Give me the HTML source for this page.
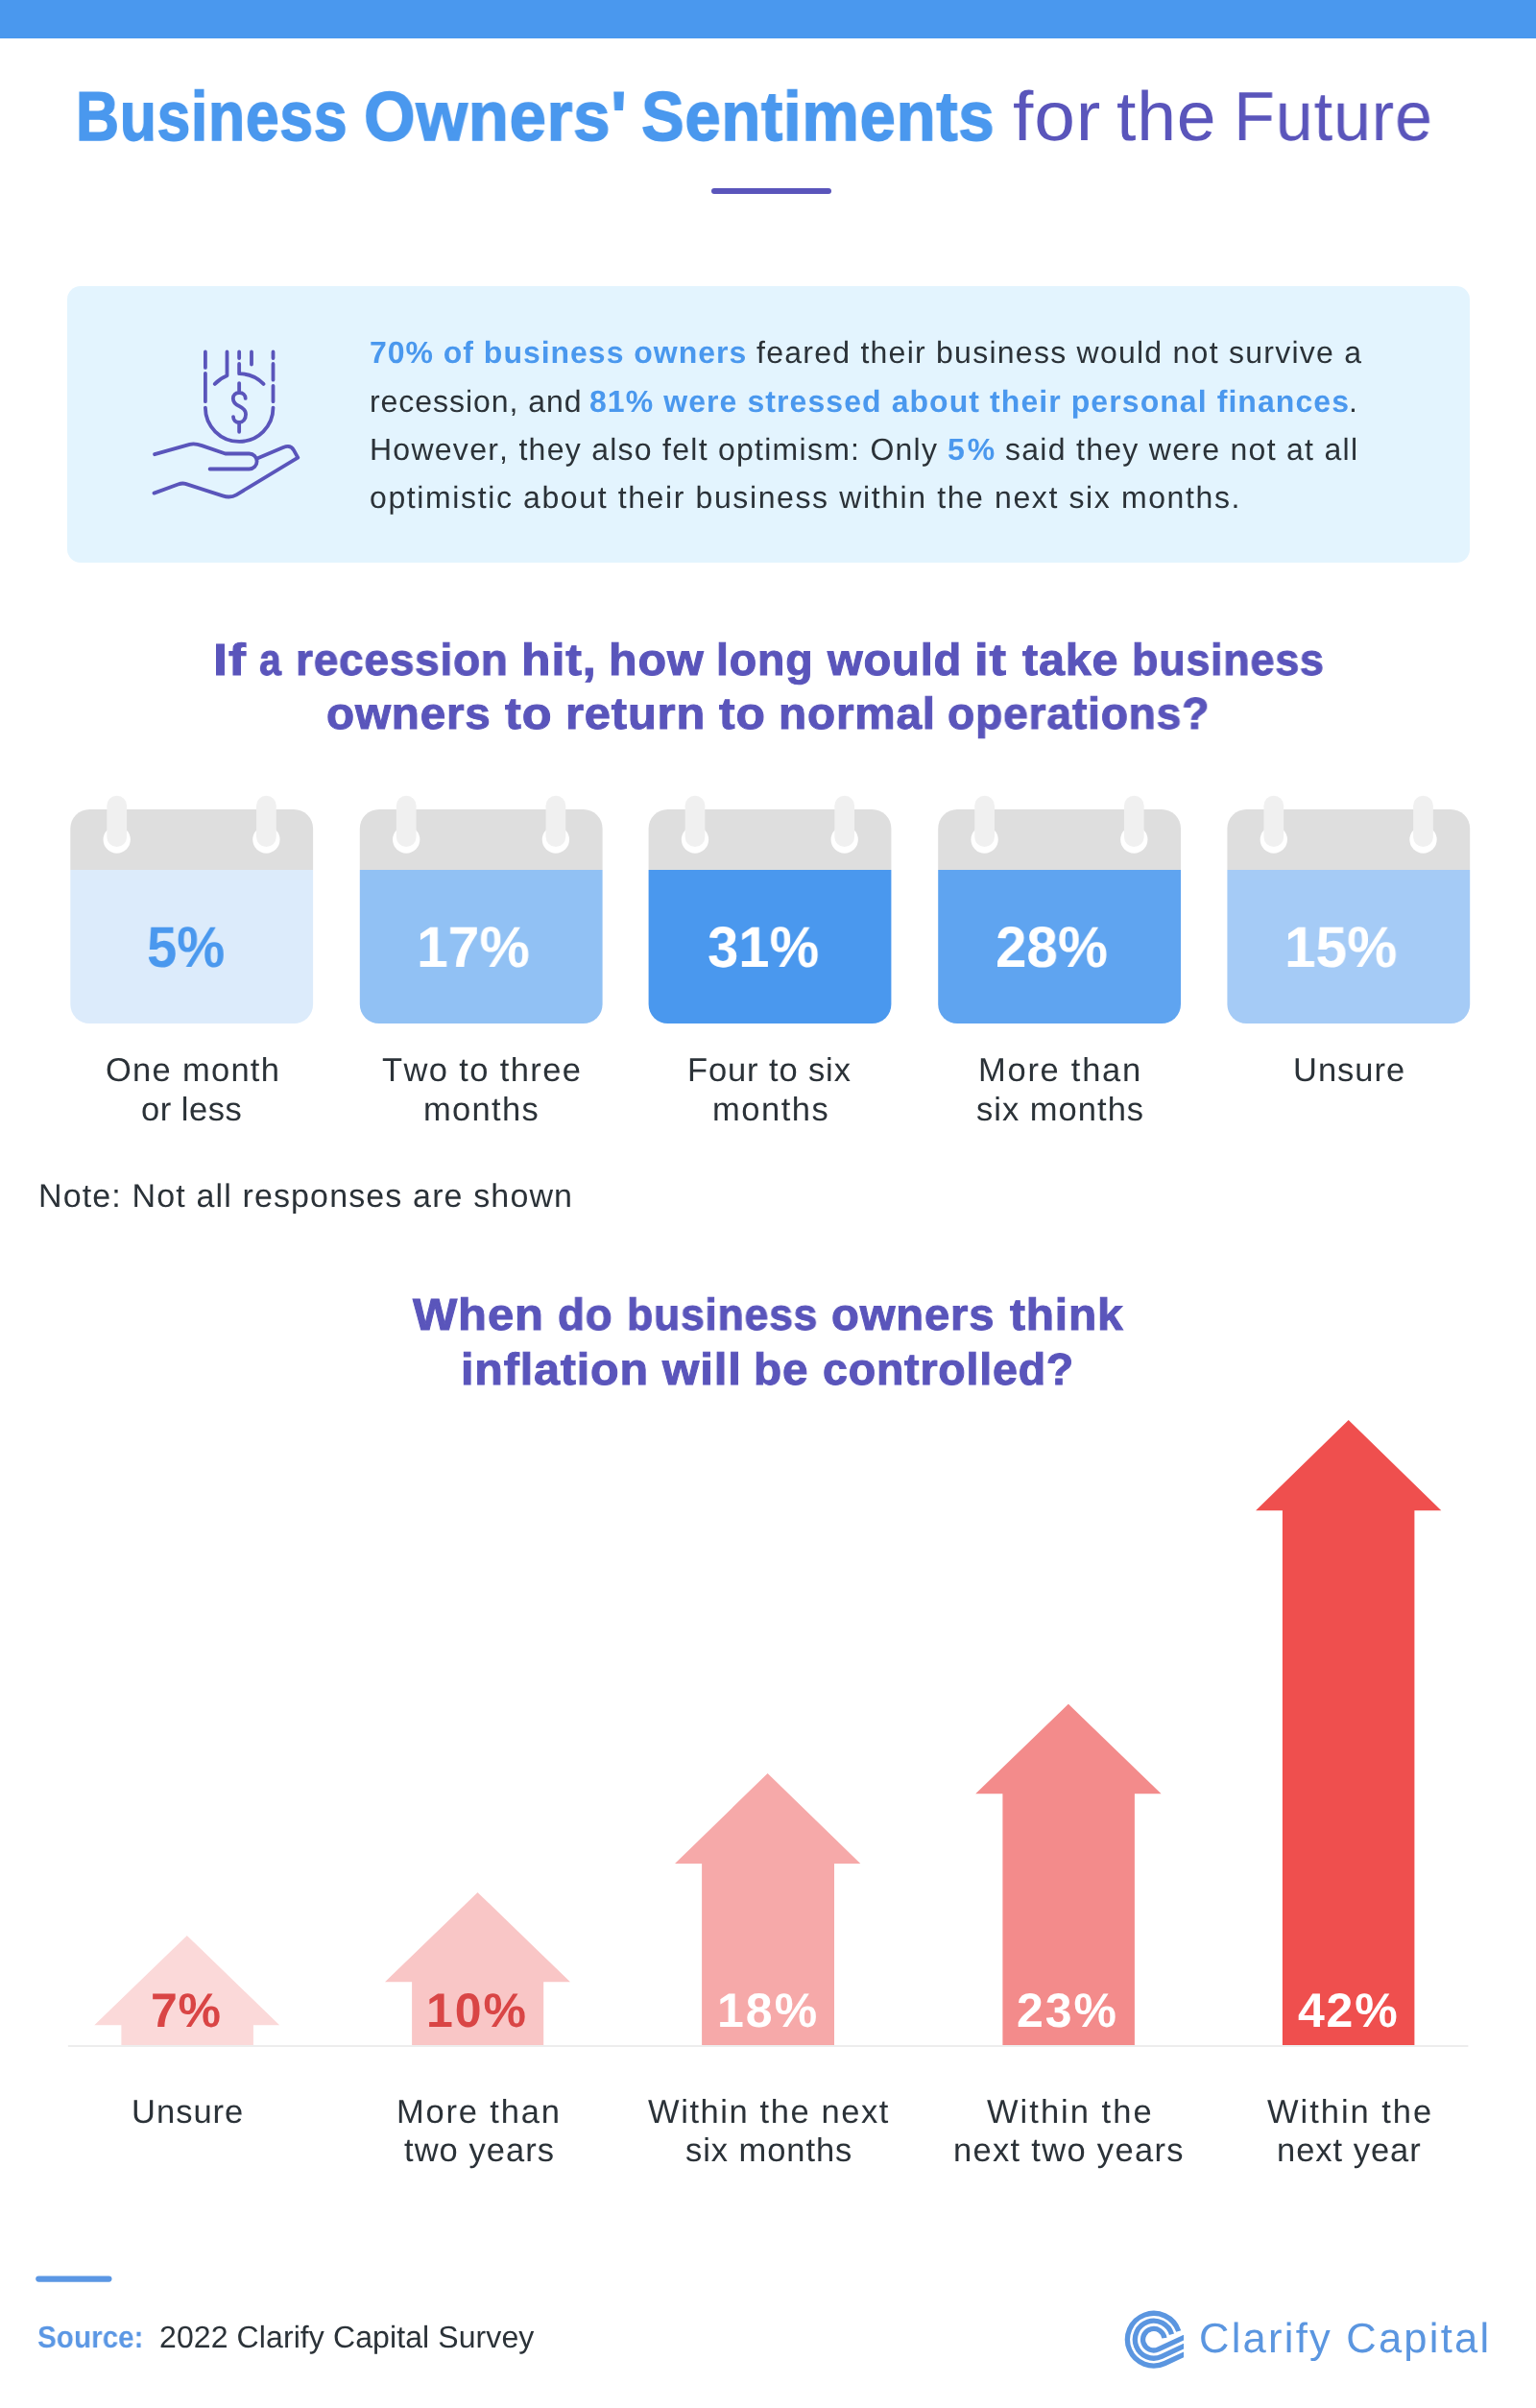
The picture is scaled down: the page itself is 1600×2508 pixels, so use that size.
<!DOCTYPE html>
<html><head><meta charset="utf-8"><title>Business Owners' Sentiments for the Future</title>
<style>
html,body{margin:0;padding:0;background:#fff;}
body{width:1600px;height:2508px;position:relative;overflow:hidden;font-family:"Liberation Sans",sans-serif;}
.t{position:absolute;white-space:nowrap;font-kerning:none;transform-origin:0 0;text-rendering:geometricPrecision;will-change:transform;}
.s{position:absolute;}
svg{position:absolute;left:0;top:0;}
</style></head><body>
<div class="s" style="left:0;top:0;width:1600px;height:40px;background:#4a98ee"></div>
<div class="s" style="left:740.6px;top:195.8px;width:125.4px;height:6.2px;border-radius:3.1px;background:#5a55bb"></div>
<div class="s" style="left:70px;top:298px;width:1461px;height:288px;border-radius:14px;background:#e3f4fe"></div>
<svg width="1600" height="2508" viewBox="0 0 1600 2508">
<path d="M73.3 906.0 V863.0 A20 20 0 0 1 93.3 843.0 H306.1 A20 20 0 0 1 326.1 863.0 V906.0 Z" fill="#dedede"/>
<path d="M73.3 906.0 V1046.0 A20 20 0 0 0 93.3 1066.0 H306.1 A20 20 0 0 0 326.1 1046.0 V906.0 Z" fill="#dcebfb"/>
<circle cx="121.7" cy="874.6" r="14.15" fill="#fff"/>
<rect x="111.35" y="828.8" width="20.7" height="53.3" rx="10.35" fill="#f0f0f0"/>
<circle cx="277.4" cy="874.6" r="14.15" fill="#fff"/>
<rect x="267.05" y="828.8" width="20.7" height="53.3" rx="10.35" fill="#f0f0f0"/>
<path d="M374.8 906.0 V863.0 A20 20 0 0 1 394.8 843.0 H607.6 A20 20 0 0 1 627.6 863.0 V906.0 Z" fill="#dedede"/>
<path d="M374.8 906.0 V1046.0 A20 20 0 0 0 394.8 1066.0 H607.6 A20 20 0 0 0 627.6 1046.0 V906.0 Z" fill="#91c1f4"/>
<circle cx="423.2" cy="874.6" r="14.15" fill="#fff"/>
<rect x="412.85" y="828.8" width="20.7" height="53.3" rx="10.35" fill="#f0f0f0"/>
<circle cx="578.9" cy="874.6" r="14.15" fill="#fff"/>
<rect x="568.55" y="828.8" width="20.7" height="53.3" rx="10.35" fill="#f0f0f0"/>
<path d="M675.6 906.0 V863.0 A20 20 0 0 1 695.6 843.0 H908.4 A20 20 0 0 1 928.4 863.0 V906.0 Z" fill="#dedede"/>
<path d="M675.6 906.0 V1046.0 A20 20 0 0 0 695.6 1066.0 H908.4 A20 20 0 0 0 928.4 1046.0 V906.0 Z" fill="#4a98ee"/>
<circle cx="724.0" cy="874.6" r="14.15" fill="#fff"/>
<rect x="713.65" y="828.8" width="20.7" height="53.3" rx="10.35" fill="#f0f0f0"/>
<circle cx="879.7" cy="874.6" r="14.15" fill="#fff"/>
<rect x="869.35" y="828.8" width="20.7" height="53.3" rx="10.35" fill="#f0f0f0"/>
<path d="M977.2 906.0 V863.0 A20 20 0 0 1 997.2 843.0 H1210.0 A20 20 0 0 1 1230.0 863.0 V906.0 Z" fill="#dedede"/>
<path d="M977.2 906.0 V1046.0 A20 20 0 0 0 997.2 1066.0 H1210.0 A20 20 0 0 0 1230.0 1046.0 V906.0 Z" fill="#5fa4f0"/>
<circle cx="1025.6" cy="874.6" r="14.15" fill="#fff"/>
<rect x="1015.25" y="828.8" width="20.7" height="53.3" rx="10.35" fill="#f0f0f0"/>
<circle cx="1181.3" cy="874.6" r="14.15" fill="#fff"/>
<rect x="1170.95" y="828.8" width="20.7" height="53.3" rx="10.35" fill="#f0f0f0"/>
<path d="M1278.4 906.0 V863.0 A20 20 0 0 1 1298.4 843.0 H1511.2 A20 20 0 0 1 1531.2 863.0 V906.0 Z" fill="#dedede"/>
<path d="M1278.4 906.0 V1046.0 A20 20 0 0 0 1298.4 1066.0 H1511.2 A20 20 0 0 0 1531.2 1046.0 V906.0 Z" fill="#a5cbf6"/>
<circle cx="1326.8" cy="874.6" r="14.15" fill="#fff"/>
<rect x="1316.45" y="828.8" width="20.7" height="53.3" rx="10.35" fill="#f0f0f0"/>
<circle cx="1482.5" cy="874.6" r="14.15" fill="#fff"/>
<rect x="1472.15" y="828.8" width="20.7" height="53.3" rx="10.35" fill="#f0f0f0"/>
<rect x="70.9" y="2130" width="1458.5" height="2" fill="#ededed"/>
<polygon points="194.8,2015.9 291.2,2109.2 263.9,2109.2 263.9,2130 126.4,2130 126.4,2109.2 98.3,2109.2" fill="#fbd9d9"/>
<polygon points="497.5,1970.9 594.0,2064.3 566.2,2064.3 566.2,2130 429.1,2130 429.1,2064.3 401.0,2064.3" fill="#f9c6c6"/>
<polygon points="799.6,1847.1 896.3,1940.9 869.0,1940.9 869.0,2130 731.1,2130 731.1,1940.9 703.0,1940.9" fill="#f6a9a9"/>
<polygon points="1112.9,1774.8 1209.6,1868.2 1181.9,1868.2 1181.9,2130 1044.4,2130 1044.4,1868.2 1016.2,1868.2" fill="#f38b8b"/>
<polygon points="1404.7,1479.0 1501.3,1573.3 1473.4,1573.3 1473.4,2130 1335.9,2130 1335.9,1573.3 1308.1,1573.3" fill="#ef4f4e"/>
<rect x="37.2" y="2370.5" width="79.3" height="6.2" rx="3.1" fill="#5b97e4"/>
<clipPath id="lc"><rect x="1160" y="2395" width="72.9" height="90"/></clipPath>
<g clip-path="url(#lc)" fill="none" stroke="#5b96e0" stroke-width="5.3">
<path d="M1227.74 2428.02 A27.35 27.35 0 1 0 1213.36 2461.49 L1267.74 2436.13"/>
<path d="M1220.50 2431.34 A19.45 19.45 0 1 0 1210.02 2454.33 L1264.40 2428.97"/>
<path d="M1212.93 2435.04 A11.25 11.25 0 1 0 1206.55 2446.90 L1260.93 2421.54"/>
</g>
<g fill="none" stroke="#5a55bb" stroke-width="3.8" stroke-linecap="round" stroke-linejoin="round">
<path d="M213.9 366.5V382.9M213.9 388.8V418.2M213.9 424.6A35.3 35.3 0 0 0 284.5 424.6M284.5 366.5V373M284.5 379V395.7M284.5 401.8V418.2"/>
<path d="M236.5 366.5V391.3A35.4 35.4 0 0 0 223.8 399.9M249.15 366.5V373M249.15 379V389.2A35.4 35.4 0 0 1 274.5 399.9M262 366.5V379.5"/>
<path d="M249.15 399.1V409M249.15 440V449.8M255.7 414.9C255.7 411.5 252.9 409 249.15 409C245.5 409 242.8 411.6 242.8 414.9C242.8 419.5 246 421.5 249.15 423C252.5 424.6 256.05 426.5 256.05 431.5C256.05 436.5 253 440 249.15 440C245.5 440 243 437.5 243 434.1"/>
<path d="M161.1 473.2L197.6 462.9Q202.7 461.5 210.3 464.1L234.7 472.5H259.6A8 8 0 0 1 259.6 488.5H218.6"/>
<path d="M267.9 477.4L295 466Q302.7 462.8 306 468.8L310.3 476.6L246.3 515.3Q240.1 519.05 231.9 516.4L193.2 503.9Q189.9 502.85 185.4 504.5L160.5 513.6"/>
</g>
</svg>
<div class="t" style="top:77.52px;font-size:72.5px;line-height:87px;color:#4a98ee;font-weight:700;-webkit-text-stroke:1.5px #4a98ee;left:79.27px;letter-spacing:0.800px;transform:scaleX(0.8612);">Business</div>
<div class="t" style="top:77.52px;font-size:72.5px;line-height:87px;color:#4a98ee;font-weight:700;-webkit-text-stroke:1.5px #4a98ee;left:378.82px;letter-spacing:0.800px;transform:scaleX(0.9504);">Owners'</div>
<div class="t" style="top:77.52px;font-size:72.5px;line-height:87px;color:#4a98ee;font-weight:700;-webkit-text-stroke:1.5px #4a98ee;left:667.82px;letter-spacing:0.800px;transform:scaleX(0.9233);">Sentiments</div>
<div class="t" style="top:77.50px;font-size:72.5px;line-height:87px;color:#5a55bb;left:1054.61px;letter-spacing:0.800px;transform:scaleX(1.0586);">for</div>
<div class="t" style="top:77.50px;font-size:72.5px;line-height:87px;color:#5a55bb;left:1162.79px;letter-spacing:0.800px;transform:scaleX(1.0116);">the</div>
<div class="t" style="top:77.50px;font-size:72.5px;line-height:87px;color:#5a55bb;left:1285.04px;letter-spacing:0.800px;transform:scaleX(0.9693);">Future</div>
<div class="t" style="top:348.41px;font-size:32px;line-height:38px;color:#4a98ee;font-weight:700;left:385.32px;letter-spacing:0.977px;">70% of business owners</div>
<div class="t" style="top:348.41px;font-size:32px;line-height:38px;color:#2b3238;left:787.75px;letter-spacing:1.254px;">feared their business would not survive a</div>
<div class="t" style="top:398.50px;font-size:32px;line-height:38px;color:#2b3238;left:384.57px;letter-spacing:0.951px;">recession, and</div>
<div class="t" style="top:398.50px;font-size:32px;line-height:38px;color:#4a98ee;font-weight:700;left:613.98px;letter-spacing:1.074px;">81% were stressed about their personal finances</div>
<div class="t" style="top:398.50px;font-size:32px;line-height:38px;color:#2b3238;left:1405.08px;letter-spacing:0.000px;">.</div>
<div class="t" style="top:448.71px;font-size:32px;line-height:38px;color:#2b3238;left:385.07px;letter-spacing:1.265px;">However, they also felt optimism: Only</div>
<div class="t" style="top:448.71px;font-size:32px;line-height:38px;color:#4a98ee;font-weight:700;left:987.02px;letter-spacing:2.978px;">5%</div>
<div class="t" style="top:448.71px;font-size:32px;line-height:38px;color:#2b3238;left:1046.51px;letter-spacing:1.285px;">said they were not at all</div>
<div class="t" style="top:498.91px;font-size:32px;line-height:38px;color:#2b3238;left:385.36px;letter-spacing:1.614px;">optimistic about their business within the next six months.</div>
<div class="t" style="top:658.71px;font-size:46.5px;line-height:56px;color:#5a55bb;font-weight:700;-webkit-text-stroke:1px #5a55bb;left:222.00px;letter-spacing:0.800px;transform:scaleX(1.1572);">If</div>
<div class="t" style="top:658.71px;font-size:46.5px;line-height:56px;color:#5a55bb;font-weight:700;-webkit-text-stroke:1px #5a55bb;left:269.70px;letter-spacing:0.800px;transform:scaleX(0.8833);">a</div>
<div class="t" style="top:658.71px;font-size:46.5px;line-height:56px;color:#5a55bb;font-weight:700;-webkit-text-stroke:1px #5a55bb;left:307.77px;letter-spacing:0.800px;transform:scaleX(0.9886);">recession</div>
<div class="t" style="top:658.71px;font-size:46.5px;line-height:56px;color:#5a55bb;font-weight:700;-webkit-text-stroke:1px #5a55bb;left:542.90px;letter-spacing:0.800px;transform:scaleX(1.0765);">hit,</div>
<div class="t" style="top:658.71px;font-size:46.5px;line-height:56px;color:#5a55bb;font-weight:700;-webkit-text-stroke:1px #5a55bb;left:633.62px;letter-spacing:0.800px;transform:scaleX(1.0424);">how</div>
<div class="t" style="top:658.71px;font-size:46.5px;line-height:56px;color:#5a55bb;font-weight:700;-webkit-text-stroke:1px #5a55bb;left:745.66px;letter-spacing:0.800px;transform:scaleX(0.9992);">long</div>
<div class="t" style="top:658.71px;font-size:46.5px;line-height:56px;color:#5a55bb;font-weight:700;-webkit-text-stroke:1px #5a55bb;left:862.34px;letter-spacing:0.800px;transform:scaleX(1.0136);">would</div>
<div class="t" style="top:658.71px;font-size:46.5px;line-height:56px;color:#5a55bb;font-weight:700;-webkit-text-stroke:1px #5a55bb;left:1014.93px;letter-spacing:0.800px;transform:scaleX(1.1304);">it</div>
<div class="t" style="top:658.71px;font-size:46.5px;line-height:56px;color:#5a55bb;font-weight:700;-webkit-text-stroke:1px #5a55bb;left:1064.91px;letter-spacing:0.800px;transform:scaleX(1.0417);">take</div>
<div class="t" style="top:658.71px;font-size:46.5px;line-height:56px;color:#5a55bb;font-weight:700;-webkit-text-stroke:1px #5a55bb;left:1178.94px;letter-spacing:0.800px;transform:scaleX(0.9649);">business</div>
<div class="t" style="top:715.21px;font-size:46.5px;line-height:56px;color:#5a55bb;font-weight:700;-webkit-text-stroke:1px #5a55bb;left:340.14px;letter-spacing:0.800px;transform:scaleX(1.0241);">owners</div>
<div class="t" style="top:715.21px;font-size:46.5px;line-height:56px;color:#5a55bb;font-weight:700;-webkit-text-stroke:1px #5a55bb;left:526.28px;letter-spacing:0.800px;transform:scaleX(1.0850);">to</div>
<div class="t" style="top:715.21px;font-size:46.5px;line-height:56px;color:#5a55bb;font-weight:700;-webkit-text-stroke:1px #5a55bb;left:588.78px;letter-spacing:0.800px;transform:scaleX(1.0499);">return</div>
<div class="t" style="top:715.21px;font-size:46.5px;line-height:56px;color:#5a55bb;font-weight:700;-webkit-text-stroke:1px #5a55bb;left:748.89px;letter-spacing:0.800px;transform:scaleX(1.0708);">to</div>
<div class="t" style="top:715.21px;font-size:46.5px;line-height:56px;color:#5a55bb;font-weight:700;-webkit-text-stroke:1px #5a55bb;left:810.86px;letter-spacing:0.800px;transform:scaleX(1.0257);">normal</div>
<div class="t" style="top:715.21px;font-size:46.5px;line-height:56px;color:#5a55bb;font-weight:700;-webkit-text-stroke:1px #5a55bb;left:986.70px;letter-spacing:0.800px;transform:scaleX(0.9937);">operations?</div>
<div class="t" style="top:951.30px;font-size:60px;line-height:72px;color:#4a98ee;font-weight:700;left:153.37px;transform:scaleX(0.9377);">5%</div>
<div class="t" style="top:951.30px;font-size:60px;line-height:72px;color:#fff;font-weight:700;left:434.39px;transform:scaleX(0.9806);">17%</div>
<div class="t" style="top:951.30px;font-size:60px;line-height:72px;color:#fff;font-weight:700;left:736.77px;transform:scaleX(0.9673);">31%</div>
<div class="t" style="top:951.30px;font-size:60px;line-height:72px;color:#fff;font-weight:700;left:1036.88px;transform:scaleX(0.9732);">28%</div>
<div class="t" style="top:951.30px;font-size:60px;line-height:72px;color:#fff;font-weight:700;left:1338.31px;transform:scaleX(0.9771);">15%</div>
<div class="t" style="top:1094.80px;font-size:34.5px;line-height:41px;color:#2b3238;left:109.62px;letter-spacing:1.280px;">One month</div>
<div class="t" style="top:1135.61px;font-size:34.5px;line-height:41px;color:#2b3238;left:147.30px;letter-spacing:0.522px;">or less</div>
<div class="t" style="top:1094.80px;font-size:34.5px;line-height:41px;color:#2b3238;left:397.98px;letter-spacing:1.382px;">Two to three</div>
<div class="t" style="top:1135.61px;font-size:34.5px;line-height:41px;color:#2b3238;left:440.71px;letter-spacing:1.320px;">months</div>
<div class="t" style="top:1094.80px;font-size:34.5px;line-height:41px;color:#2b3238;left:716.47px;letter-spacing:0.886px;">Four to six</div>
<div class="t" style="top:1135.61px;font-size:34.5px;line-height:41px;color:#2b3238;left:742.01px;letter-spacing:1.520px;">months</div>
<div class="t" style="top:1094.80px;font-size:34.5px;line-height:41px;color:#2b3238;left:1019.07px;letter-spacing:1.730px;">More than</div>
<div class="t" style="top:1135.61px;font-size:34.5px;line-height:41px;color:#2b3238;left:1016.74px;letter-spacing:1.025px;">six months</div>
<div class="t" style="top:1094.80px;font-size:34.5px;line-height:41px;color:#2b3238;left:1346.84px;letter-spacing:0.996px;">Unsure</div>
<div class="t" style="top:1226.00px;font-size:34px;line-height:41px;color:#2b3238;left:39.91px;letter-spacing:1.135px;">Note: Not all responses are shown</div>
<div class="t" style="top:1341.30px;font-size:46.5px;line-height:56px;color:#5a55bb;font-weight:700;-webkit-text-stroke:1px #5a55bb;left:430.35px;letter-spacing:0.800px;transform:scaleX(1.0541);">When</div>
<div class="t" style="top:1341.30px;font-size:46.5px;line-height:56px;color:#5a55bb;font-weight:700;-webkit-text-stroke:1px #5a55bb;left:581.43px;letter-spacing:0.800px;transform:scaleX(0.9817);">do</div>
<div class="t" style="top:1341.30px;font-size:46.5px;line-height:56px;color:#5a55bb;font-weight:700;-webkit-text-stroke:1px #5a55bb;left:653.27px;letter-spacing:0.800px;transform:scaleX(0.9575);">business</div>
<div class="t" style="top:1341.30px;font-size:46.5px;line-height:56px;color:#5a55bb;font-weight:700;-webkit-text-stroke:1px #5a55bb;left:866.35px;letter-spacing:0.800px;transform:scaleX(1.0161);">owners</div>
<div class="t" style="top:1341.30px;font-size:46.5px;line-height:56px;color:#5a55bb;font-weight:700;-webkit-text-stroke:1px #5a55bb;left:1052.02px;letter-spacing:0.800px;transform:scaleX(1.0303);">think</div>
<div class="t" style="top:1397.61px;font-size:46.5px;line-height:56px;color:#5a55bb;font-weight:700;-webkit-text-stroke:1px #5a55bb;left:479.62px;letter-spacing:0.800px;transform:scaleX(1.0416);">inflation</div>
<div class="t" style="top:1397.61px;font-size:46.5px;line-height:56px;color:#5a55bb;font-weight:700;-webkit-text-stroke:1px #5a55bb;left:690.14px;letter-spacing:0.800px;transform:scaleX(1.0584);">will</div>
<div class="t" style="top:1397.61px;font-size:46.5px;line-height:56px;color:#5a55bb;font-weight:700;-webkit-text-stroke:1px #5a55bb;left:785.06px;letter-spacing:0.800px;transform:scaleX(1.0256);">be</div>
<div class="t" style="top:1397.61px;font-size:46.5px;line-height:56px;color:#5a55bb;font-weight:700;-webkit-text-stroke:1px #5a55bb;left:857.28px;letter-spacing:0.800px;transform:scaleX(1.0005);">controlled?</div>
<div class="t" style="top:2063.61px;font-size:50px;line-height:60px;color:#d94545;font-weight:700;left:157.45px;letter-spacing:0.701px;">7%</div>
<div class="t" style="top:2063.61px;font-size:50px;line-height:60px;color:#d94545;font-weight:700;left:444.35px;letter-spacing:1.997px;">10%</div>
<div class="t" style="top:2063.61px;font-size:50px;line-height:60px;color:#fff;font-weight:700;left:746.65px;letter-spacing:2.047px;">18%</div>
<div class="t" style="top:2063.61px;font-size:50px;line-height:60px;color:#fff;font-weight:700;left:1059.47px;letter-spacing:1.889px;">23%</div>
<div class="t" style="top:2063.61px;font-size:50px;line-height:60px;color:#fff;font-weight:700;left:1351.54px;letter-spacing:1.801px;">42%</div>
<div class="t" style="top:2179.71px;font-size:34.5px;line-height:41px;color:#2b3238;left:136.64px;letter-spacing:1.016px;">Unsure</div>
<div class="t" style="top:2179.71px;font-size:34.5px;line-height:41px;color:#2b3238;left:412.67px;letter-spacing:1.817px;">More than</div>
<div class="t" style="top:2219.61px;font-size:34.5px;line-height:41px;color:#2b3238;left:420.78px;letter-spacing:1.054px;">two years</div>
<div class="t" style="top:2179.71px;font-size:34.5px;line-height:41px;color:#2b3238;left:675.45px;letter-spacing:1.587px;">Within the next</div>
<div class="t" style="top:2219.61px;font-size:34.5px;line-height:41px;color:#2b3238;left:713.74px;letter-spacing:0.936px;">six months</div>
<div class="t" style="top:2179.71px;font-size:34.5px;line-height:41px;color:#2b3238;left:1028.25px;letter-spacing:2.021px;">Within the</div>
<div class="t" style="top:2219.61px;font-size:34.5px;line-height:41px;color:#2b3238;left:992.91px;letter-spacing:1.308px;">next two years</div>
<div class="t" style="top:2179.71px;font-size:34.5px;line-height:41px;color:#2b3238;left:1320.15px;letter-spacing:1.976px;">Within the</div>
<div class="t" style="top:2219.61px;font-size:34.5px;line-height:41px;color:#2b3238;left:1330.01px;letter-spacing:0.982px;">next year</div>
<div class="t" style="top:2414.71px;font-size:32px;line-height:38px;color:#5b97e4;font-weight:700;left:39.45px;transform:scaleX(0.9267);">Source:</div>
<div class="t" style="top:2414.71px;font-size:32px;line-height:38px;color:#2b3238;left:165.69px;letter-spacing:0.101px;">2022 Clarify Capital Survey</div>
<div class="t" style="top:2410.21px;font-size:43.5px;line-height:52px;color:#5b96e0;left:1249.49px;letter-spacing:2.241px;">Clarify Capital</div>
</body></html>
